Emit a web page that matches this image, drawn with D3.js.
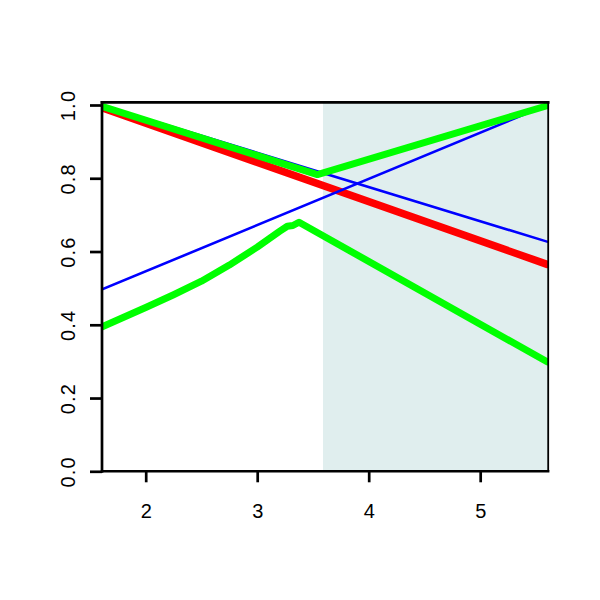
<!DOCTYPE html>
<html>
<head>
<meta charset="utf-8">
<script src="https://cdn.jsdelivr.net/npm/d3@7"></script>
<style>
  html, body { margin: 0; padding: 0; background: #fff; }
  svg { display: block; }
</style>
</head>
<body>
<svg id="chart" width="600" height="600"></svg>
<script>
// ---- data ----
const xTicks = [2, 3, 4, 5];
const yTicks = [0.0, 0.2, 0.4, 0.6, 0.8, 1.0];
const shadeRange = [3.59, 5.61];

const blue1X = [1.6, 5.6];
const blue1Y = [0.4955, 1.0];

const blue2X = [1.6, 5.6];
const blue2Y = [1.0, 0.627];

const redX = [1.6, 5.6];
const redY = [0.993, 0.565];

const green1X = [1.6, 3.54, 5.6];
const green1Y = [0.997, 0.81, 0.998];

const green2X = [1.6, 2.0, 2.25, 2.5, 2.75, 3.0, 3.2, 3.27, 3.32, 3.375, 5.6];
const green2Y = [0.393, 0.447, 0.482, 0.519, 0.563, 0.612, 0.655, 0.669, 0.671, 0.68, 0.299];

// ---- layout ----
const svg = d3.select("#chart");
const L = 102, R = 548.2, T = 102.3, B = 471.3;
const x = d3.scaleLinear().domain([1.608, 5.61]).range([L, R]);
const y = d3.scaleLinear().domain([0, 1]).range([B, 105]);
const FONT = "'Liberation Sans', Arial, Helvetica, sans-serif";

svg.append("defs").append("clipPath").attr("id", "plotclip")
  .append("rect").attr("x", L).attr("y", T).attr("width", R - L).attr("height", B - T);

// shaded region
svg.append("rect")
  .attr("x", x(shadeRange[0])).attr("y", T)
  .attr("width", x(shadeRange[1]) - x(shadeRange[0]))
  .attr("height", B - T)
  .attr("fill", "#E0EEEE");

const g = svg.append("g").attr("clip-path", "url(#plotclip)");
const line = d3.line().x(d => x(d[0])).y(d => y(d[1]));
function drawLine(xs, ys, color, w) {
  g.append("path")
    .attr("d", line(xs.map((v, i) => [v, ys[i]])))
    .attr("fill", "none")
    .attr("stroke", color)
    .attr("stroke-width", w)
    .attr("stroke-linejoin", "round")
    .attr("stroke-linecap", "round");
}
drawLine(redX, redY, "#FF0000", 7.5);
drawLine(blue1X, blue1Y, "#0000FF", 2.6);
drawLine(blue2X, blue2Y, "#0000FF", 2.6);
drawLine(green1X, green1Y, "#00FF00", 7);
drawLine(green2X, green2Y, "#00FF00", 7);

// frame
svg.append("line").attr("x1", R).attr("x2", R).attr("y1", T).attr("y2", B)
  .attr("stroke", "#000").attr("stroke-width", 1.8);
svg.append("line").attr("x1", L).attr("x2", R).attr("y1", T).attr("y2", T)
  .attr("stroke", "#000").attr("stroke-width", 2.7).attr("stroke-linecap", "square");
svg.append("line").attr("x1", L).attr("x2", R).attr("y1", B).attr("y2", B)
  .attr("stroke", "#000").attr("stroke-width", 2.4).attr("stroke-linecap", "square");
svg.append("line").attr("x1", L).attr("x2", L).attr("y1", T).attr("y2", B)
  .attr("stroke", "#000").attr("stroke-width", 2.7).attr("stroke-linecap", "square");

// x axis
const xAxis = d3.axisBottom(x).tickValues(xTicks).tickSize(11).tickPadding(0).tickFormat(d3.format("d"));
const gx = svg.append("g").attr("transform", `translate(0,${B})`).call(xAxis);
gx.select(".domain").remove();
gx.selectAll(".tick line").attr("stroke", "#000").attr("stroke-width", 2.7);
gx.selectAll(".tick text").attr("y", 0).attr("dy", 0)
  .attr("transform", "translate(0,46.5)")
  .attr("font-family", FONT)
  .attr("font-size", 20).attr("fill", "#000");

// y axis
const yAxis = d3.axisLeft(y).tickValues(yTicks).tickSize(12).tickFormat(d3.format(".1f"));
const gy = svg.append("g").attr("transform", `translate(${L},0)`).call(yAxis);
gy.select(".domain").remove();
gy.selectAll(".tick line").attr("stroke", "#000").attr("stroke-width", 2.7);
gy.selectAll(".tick text")
  .attr("x", null).attr("dy", null)
  .attr("transform", "translate(-27.5,0) rotate(-90)")
  .attr("text-anchor", "middle")
  .attr("letter-spacing", 1.2)
  .attr("font-family", FONT)
  .attr("font-size", 20).attr("fill", "#000");
</script>
</body>
</html>
